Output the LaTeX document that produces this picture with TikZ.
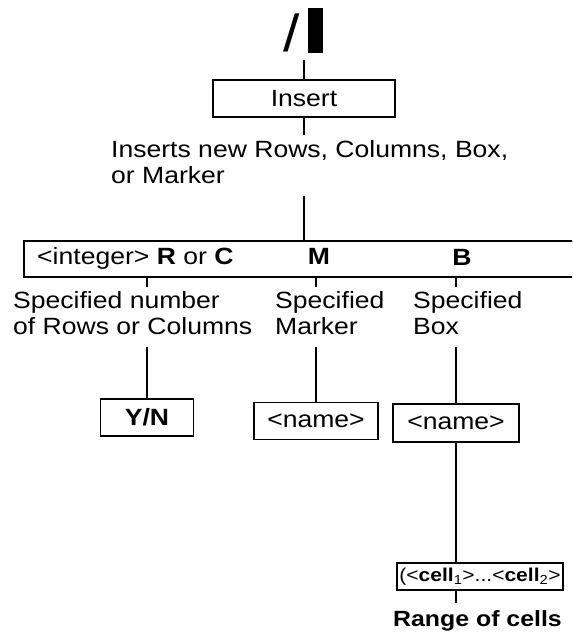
\documentclass[tikz,border=0pt]{standalone}
\usepackage{fontspec}
\setmainfont[FakeStretch=1.13]{Liberation Sans}
\tikzset{
  box/.style={draw,line width=1.9pt,minimum height=37pt,inner sep=0pt},
  lbl/.style={anchor=north west,align=left,inner sep=0pt},
  txt/.style={inner sep=0pt,anchor=base},
  ln/.style={line width=1.4pt},
}

\begin{document}
\begin{tikzpicture}[x=1pt,y=-1pt,every node/.style={font=\fontsize{23.5}{26}\selectfont}]
 \clip (0,0) rectangle (572,644);
 % command key and the Insert entry
 \node[txt,font=\fontsize{52}{52}\selectfont] (sl) at (292,52) {/};
 \node[fill=black,minimum width=15pt,minimum height=45pt,inner sep=0pt] (cur) at (315.5,30.5) {};
 \node[box,minimum width=182pt] (ins) at (304,98.5) {Insert};
 \coordinate (t) at (304,60);
 \draw[ln] (t) -- (ins.north);
 \node[lbl] (d) at (111,140) {Inserts new Rows, Columns, Box,\\or Marker};
 \draw[ln,shorten >=5pt] (ins.south) -- (ins.south |- d.north);
 % option line (runs off the right edge)
 \node[box,minimum width=577pt,minimum height=36pt,anchor=west] (opt) at (23,259) {};
 \draw[ln,shorten <=12pt] (ins.south |- d.south) -- (ins.south |- opt.north);
 \node[txt,anchor=base west] (rc) at (37,264) {<integer> \textbf{R} or \textbf{C}};
 \node[txt] (m) at (319,264) {\textbf{M}};
 \node[txt] (b) at (462,265) {\textbf{B}};
 \coordinate (c1) at (147,0);
 \coordinate (c2) at (316,0);
 \coordinate (c3) at (456,0);
 \node[lbl] (l1) at (13,291) {Specified number\\of Rows or Columns};
 \node[lbl] (l2) at (275,291) {Specified\\Marker};
 \node[lbl] (l3) at (413,291) {Specified\\Box};
 \draw[ln,shorten >=4pt] (c1 |- opt.south) -- (c1 |- l1.north);
 \draw[ln,shorten >=4pt] (c2 |- opt.south) -- (c2 |- l2.north);
 \draw[ln,shorten >=4pt] (c3 |- opt.south) -- (c3 |- l3.north);
 % next prompts
 \node[box,minimum width=93pt] (yn) at (147,417.5) {\textbf{Y/N}};
 \node[box,minimum width=124pt] (nm) at (316,421) {<name>};
 \node[box,minimum width=126pt,minimum height=38pt] (nb) at (456,423) {<name>};
 \draw[ln,shorten <=12pt] (l1.south -| c1) -- (yn.north);
 \draw[ln,shorten <=12pt] (l2.south -| c2) -- (nm.north);
 \draw[ln,shorten <=12pt] (l3.south -| c3) -- (nb.north);
 \node[box,minimum width=166pt,minimum height=27pt,font=\fontsize{18.6}{20}\selectfont] (cl) at (480,576.5) {(<\textbf{cell}\textsubscript{1}>...<\textbf{cell}\textsubscript{2}>};
 \draw[ln] (nb.south) -- (nb.south |- cl.north);
 \node[txt,anchor=base west,font=\fontsize{22}{24}\selectfont] (rg) at (393,626) {\textbf{Range of cells}};
 \draw[ln,shorten >=7pt] (nb.south |- cl.south) -- (nb.south |- rg.north);
\end{tikzpicture}
\end{document}
